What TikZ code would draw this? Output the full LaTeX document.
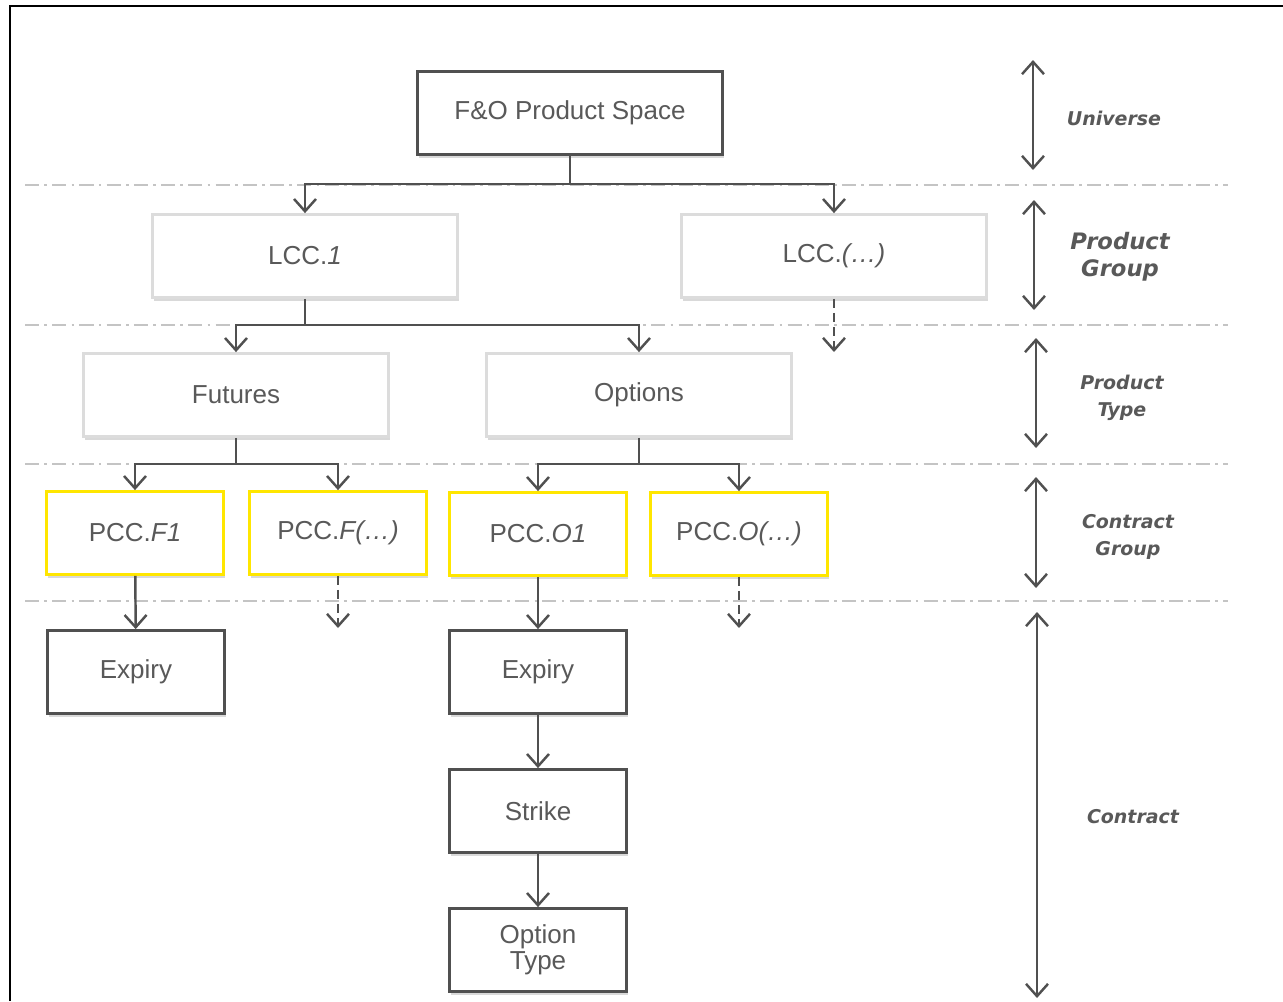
\documentclass[tikz,border=0pt]{standalone}
\usepackage{fontspec}
\setmainfont{Liberation Sans}
\newfontfamily\levelfont{DejaVu Sans}
\usetikzlibrary{arrows.meta,shadows}
\definecolor{boxgray}{HTML}{505050}
\definecolor{textgray}{HTML}{595959}
\definecolor{palegray}{HTML}{DCDCDC}
\definecolor{pccyellow}{HTML}{FFE600}
\definecolor{sepgray}{HTML}{C4C4C4}

\begin{document}
\begin{tikzpicture}[x=0.02cm, y=-0.02cm,
        >={Straight Barb[length=7pt,width=12.5pt]},
        box/.style={rectangle, fill=white, line width=1.6pt, text=textgray,
            font=\fontsize{14.8}{14.8}\selectfont, align=center,
            drop shadow={shadow xshift=1pt, shadow yshift=-2pt, opacity=0.3}},
        darkbox/.style={box, draw=boxgray},
        palebox/.style={box, draw=palegray},
        pccbox/.style={box, draw=pccyellow},
        wide/.style={minimum width=6.1cm, minimum height=1.66cm},
        narrow/.style={minimum width=3.54cm, minimum height=1.66cm},
        link/.style={draw=boxgray, line width=1.4pt},
        more/.style={link, dash pattern=on 5pt off 3pt},
        level/.style={text=textgray, align=center,
            font=\levelfont\bfseries\itshape\fontsize{10.8}{15.3}\selectfont},
        sep/.style={draw=sepgray, line width=0.8pt,
            dash pattern=on 8pt off 3pt on 1.5pt off 3pt}]
        \useasboundingbox (0,0) rectangle (1283,1001);

        % Frame
        \draw[line width=1.7pt] (10,1001) |- (1283,6);

        % Level separators
        \draw[sep] (25,185) -- (1228,185);
        \draw[sep] (25,325) -- (1228,325);
        \draw[sep] (25,464) -- (1228,464);
        \draw[sep] (25,601) -- (1228,601);

        % Nodes
        \node (space) [darkbox, wide] at (570,113) {F\&O Product Space};
        \node (lcc1) [palebox, wide] at (305,256) {LCC.\textit{1}};
        \node (lccx) [palebox, wide] at (834,256) {LCC.\textit{(…)}};
        \node (fut) [palebox, wide] at (236,395) {Futures};
        \node (opt) [palebox, wide] at (639,395) {Options};
        \node (pccf1) [pccbox, narrow] at (135,533) {PCC.\textit{F1}};
        \node (pccfx) [pccbox, narrow] at (338,533) {PCC.\textit{F(…)}};
        \node (pcco1) [pccbox, narrow] at (538,534) {PCC.\textit{O1}};
        \node (pccox) [pccbox, narrow] at (739,534) {PCC.\textit{O(…)}};
        \node (expf) [darkbox, narrow] at (136,672) {Expiry};
        \node (expo) [darkbox, narrow] at (538,672) {Expiry};
        \node (strike) [darkbox, narrow] at (538,811) {Strike};
        \node (otype) [darkbox, narrow] at (538,950) {Option\\Type};

        % Level labels
        \node (universe) [level] at (1114,118) {Universe};
        \node (prodgroup) [level, font=\levelfont\bfseries\itshape\fontsize{12.9}{15.3}\selectfont]
            at (1120,257) {Product\\Group};
        \node (prodtype) [level] at (1122,398) {Product\\Type};
        \node (contgroup) [level] at (1128,537) {Contract\\Group};
        \node (contract) [level] at (1133,817) {Contract};

        % Branch points and open ends
        \coordinate (busA) at (570,184);
        \coordinate (busB) at (305,325);
        \coordinate (busC) at (236,464);
        \coordinate (busD) at (639,464);
        \coordinate (lccxend) at (834,352);
        \coordinate (pccfxend) at (338,628);
        \coordinate (pccoxend) at (739,628);

        % Edges
        \draw[link] (space) -- (busA);
        \draw[link,->] (busA) -| (lcc1);
        \draw[link,->] (busA) -| (lccx);
        \draw[link] (lcc1) -- (busB);
        \draw[link,->] (busB) -| (fut);
        \draw[link,->] (busB) -| (opt);
        \draw[more,->] (lccx) -- (lccxend);
        \draw[link] (fut) -- (busC);
        \draw[link,->] (busC) -| (pccf1);
        \draw[link,->] (busC) -| (pccfx);
        \draw[link] (opt) -- (busD);
        \draw[link,->] (busD) -| (pcco1);
        \draw[link,->] (busD) -| (pccox);
        \draw[link,->] (pccf1) -- (expf);
        \draw[more,->] (pccfx) -- (pccfxend);
        \draw[link,->] (pcco1) -- (expo);
        \draw[more,->] (pccox) -- (pccoxend);
        \draw[link,->] (expo) -- (strike);
        \draw[link,->] (strike) -- (otype);

        % Level spans
        \coordinate (unitop) at (1033,60);
        \coordinate (unibot) at (1033,170);
        \coordinate (grptop) at (1034,200);
        \coordinate (grpbot) at (1034,310);
        \coordinate (typtop) at (1036,338);
        \coordinate (typbot) at (1036,448);
        \coordinate (cgrtop) at (1036,477);
        \coordinate (cgrbot) at (1036,588);
        \coordinate (contop) at (1037,612);
        \coordinate (conbot) at (1037,998);
        \draw[link,<->] (unitop) -- (unibot);
        \draw[link,<->] (grptop) -- (grpbot);
        \draw[link,<->] (typtop) -- (typbot);
        \draw[link,<->] (cgrtop) -- (cgrbot);
        \draw[link,<->] (contop) -- (conbot);

    \end{tikzpicture}
\end{document}
